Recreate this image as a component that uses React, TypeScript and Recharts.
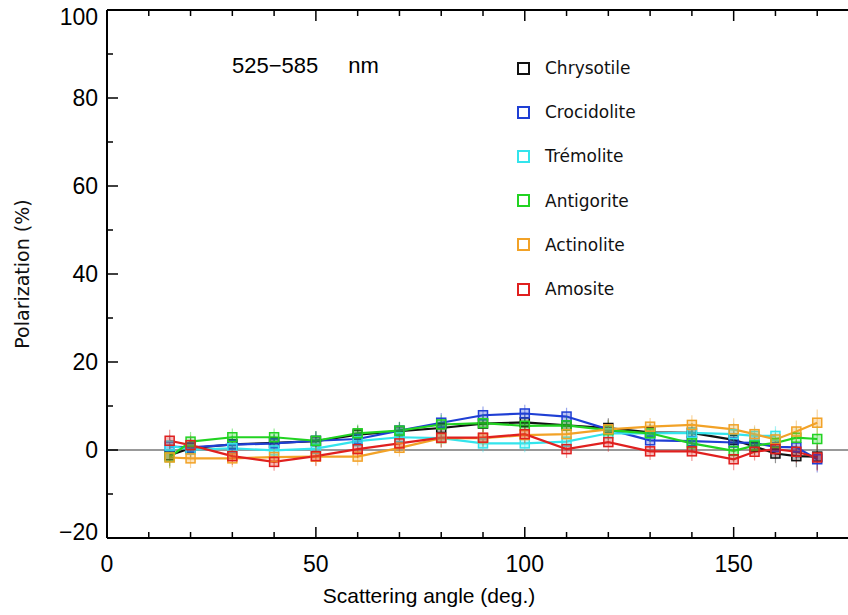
import React from 'react';
import { LineChart, Line, XAxis, YAxis, ReferenceLine, ErrorBar, Legend } from 'recharts';

// scattering angles (deg.)
const angles = [15, 20, 30, 40, 50, 60, 70, 80, 90, 100, 110, 120, 130, 140, 150, 155, 160, 165, 170];

// polarization (%) per sample
const chrysotile = [-1.2, 0.4, 1.3, 1.6, 2.0, 3.5, 4.3, 5.0, 6.0, 6.3, 5.6, 5.0, 4.0, 3.9, 2.3, 0.8, -0.8, -1.4, -1.5];
const crocidolite = [0.8, 0.6, 1.2, 1.5, 2.1, 2.5, 4.4, 6.2, 7.9, 8.3, 7.6, 4.7, 2.2, 2.0, 1.7, 1.6, 0.7, 0.6, -2.1];
const tremolite = [1.0, 0.1, 0.4, -0.1, 0.3, 2.0, 2.9, 2.7, 1.5, 1.5, 1.9, 3.8, 3.8, 3.9, 3.6, 3.2, 3.2, null, null];
const antigorite = [-1.6, 1.9, 2.9, 2.9, 2.1, 3.8, 4.4, 5.8, 6.1, 5.5, 5.6, 4.5, 3.8, 1.5, -0.2, 1.0, 1.6, 2.8, 2.5];
const actinolite = [-1.7, -1.9, -1.9, -1.6, -1.5, -1.5, 0.5, 2.7, 2.7, 3.4, 3.6, 4.7, 5.3, 5.7, 4.7, 3.6, 2.4, 4.2, 6.2];
const amosite = [2.1, 1.1, -1.4, -2.7, -1.4, 0.2, 1.5, 2.8, 2.8, 3.6, 0.2, 1.8, -0.3, -0.3, -2.1, -0.4, 0.2, -0.4, -1.7];

// rough error bar half-length per angle
const errors = [2.5, 2.2, 2.0, 2.0, 2.2, 2.0, 2.0, 2.2, 2.0, 2.0, 2.0, 2.2, 2.0, 2.2, 2.5, 2.0, 2.2, 2.5, 3.0];

const xTicks = [0, 10, 20, 30, 40, 50, 60, 70, 80, 90, 100, 110, 120, 130, 140, 150, 160, 170, 180];
const yTicks = [-20, -10, 0, 10, 20, 30, 40, 50, 60, 70, 80, 90, 100];

const series = [
    { key: 'chrysotile', name: 'Chrysotile', color: '#111111', values: chrysotile },
    { key: 'crocidolite', name: 'Crocidolite', color: '#1f3fd4', values: crocidolite },
    { key: 'tremolite', name: 'Trémolite', color: '#33e4ec', values: tremolite },
    { key: 'antigorite', name: 'Antigorite', color: '#22d322', values: antigorite },
    { key: 'actinolite', name: 'Actinolite', color: '#f2a227', values: actinolite },
    { key: 'amosite', name: 'Amosite', color: '#e0201f', values: amosite },
];

const data = angles.map((a, i) => {
    const row: any = { angle: a, err: errors[i] };
    series.forEach(s => { row[s.key] = s.values[i]; });
    return row;
});

const tickFont = '"Liberation Sans", Arial, sans-serif';
const textFont = '"DejaVu Sans", sans-serif';

function BottomTick(props: any) {
    const { x, y, payload } = props;
    const major = payload.value % 50 === 0;
    return (
        <g>
            <line x1={x} y1={y} x2={x} y2={y - (major ? 11 : 6)} stroke="#000" strokeWidth={1.5} />
            {major && (
                <text x={x} y={y + 34} textAnchor="middle" fontSize={23} fontFamily={tickFont} fill="#000">
                    {payload.value}
                </text>
            )}
        </g>
    );
}

function TopTick(props: any) {
    const { x, y, payload } = props;
    const major = payload.value % 50 === 0;
    return <line x1={x} y1={y} x2={x} y2={y + (major ? 11 : 6)} stroke="#000" strokeWidth={1.5} />;
}

function LeftTick(props: any) {
    const { x, y, payload } = props;
    const v = payload.value;
    const major = v % 20 === 0;
    const shift = v === 100 ? 7 : v === -20 ? -6 : 0;
    return (
        <g>
            <line x1={x} y1={y} x2={x + (major ? 11 : 6)} y2={y} stroke="#000" strokeWidth={1.5} />
            {major && (
                <text x={x - 9} y={y + shift} dy="0.36em" textAnchor="end" fontSize={23} fontFamily={tickFont} fill="#000">
                    {v < 0 ? '\u2212' + Math.abs(v) : v}
                </text>
            )}
        </g>
    );
}

function RightTick(props: any) {
    const { x, y, payload } = props;
    const major = payload.value % 20 === 0;
    return <line x1={x} y1={y} x2={x - (major ? 11 : 6)} y2={y} stroke="#000" strokeWidth={1.5} />;
}

function squareDot(color: string) {
    return (props: any) => {
        const { cx, cy, index } = props;
        if (cx == null || cy == null) return <g key={index} />;
        return (
            <rect key={index} x={cx - 4.5} y={cy - 4.5} width={9} height={9}
                  fill={color} fillOpacity={0.3} stroke={color} strokeWidth={1.5} />
        );
    };
}

function LegendBox() {
    return (
        <div style={{ position: 'relative', width: 848, height: 615 }}>
            <div style={{
                position: 'absolute', left: 232, top: 53, fontSize: 22, fontFamily: tickFont,
                whiteSpace: 'pre', color: '#000',
            }}>
                {'525\u2212585'}
                <span style={{ marginLeft: 30 }}>nm</span>
            </div>
            {series.map((s, i) => (
                <div key={s.key} style={{
                    position: 'absolute', left: 517, top: 56 + i * 44.2, height: 24,
                    display: 'flex', alignItems: 'center',
                }}>
                    <span style={{
                        display: 'inline-block', width: 9, height: 9,
                        border: `2px solid ${s.color}`, marginRight: 15,
                    }} />
                    <span style={{ fontSize: 17, fontFamily: textFont, color: '#111' }}>{s.name}</span>
                </div>
            ))}
        </div>
    );
}

export default function App() {
    return (
        <div style={{
            position: 'fixed', left: 0, top: 0, width: 848, height: 615,
            overflow: 'hidden', background: '#fff',
        }}>
            <LineChart
                width={880}
                height={615}
                data={data}
                margin={{ top: 0, right: 0, left: 0, bottom: 0 }}
            >
                <XAxis
                    dataKey="angle"
                    type="number"
                    domain={[0, 180]}
                    ticks={xTicks}
                    interval={0}
                    height={77}
                    tickSize={0}
                    tickMargin={0}
                    tick={<BottomTick />}
                    axisLine={{ stroke: '#000', strokeWidth: 2 }}
                    label={{
                        value: 'Scattering angle (deg.)', position: 'insideBottom', offset: 12, dx: -54,
                        style: { fontSize: 21, fontFamily: tickFont, fill: '#000' },
                    }}
                />
                <XAxis
                    xAxisId="top"
                    orientation="top"
                    dataKey="angle"
                    type="number"
                    domain={[0, 180]}
                    ticks={xTicks}
                    interval={0}
                    height={10}
                    tickSize={0}
                    tickMargin={0}
                    tick={<TopTick />}
                    axisLine={{ stroke: '#000', strokeWidth: 2 }}
                />
                <YAxis
                    type="number"
                    domain={[-20, 100]}
                    ticks={yTicks}
                    interval={0}
                    width={107}
                    tickSize={0}
                    tickMargin={0}
                    tick={<LeftTick />}
                    axisLine={{ stroke: '#000', strokeWidth: 2 }}
                    label={{
                        value: 'Polarization (%)', angle: -90, position: 'insideLeft', offset: 22,
                        style: { textAnchor: 'middle', fontSize: 19, fontFamily: textFont, fill: '#111' },
                    }}
                />
                <YAxis
                    yAxisId="right"
                    orientation="right"
                    type="number"
                    domain={[-20, 100]}
                    ticks={yTicks}
                    interval={0}
                    width={21}
                    tickSize={0}
                    tickMargin={0}
                    tick={<RightTick />}
                    axisLine={{ stroke: '#000', strokeWidth: 2 }}
                />
                <ReferenceLine y={0} stroke="#777" strokeWidth={1.5} />
                {series.map(s => (
                    <Line
                        key={s.key}
                        dataKey={s.key}
                        name={s.name}
                        stroke={s.color}
                        strokeWidth={2.2}
                        dot={squareDot(s.color)}
                        activeDot={false}
                        connectNulls={false}
                        isAnimationActive={false}
                    >
                        <ErrorBar dataKey="err" width={0} stroke={s.color} strokeOpacity={0.45} strokeWidth={1.2} />
                    </Line>
                ))}
                <Legend
                    layout="vertical"
                    align="center"
                    verticalAlign="middle"
                    content={() => <LegendBox />}
                    wrapperStyle={{ left: 0, top: 0, width: 848, height: 615, pointerEvents: 'none' }}
                />
            </LineChart>
        </div>
    );
}
